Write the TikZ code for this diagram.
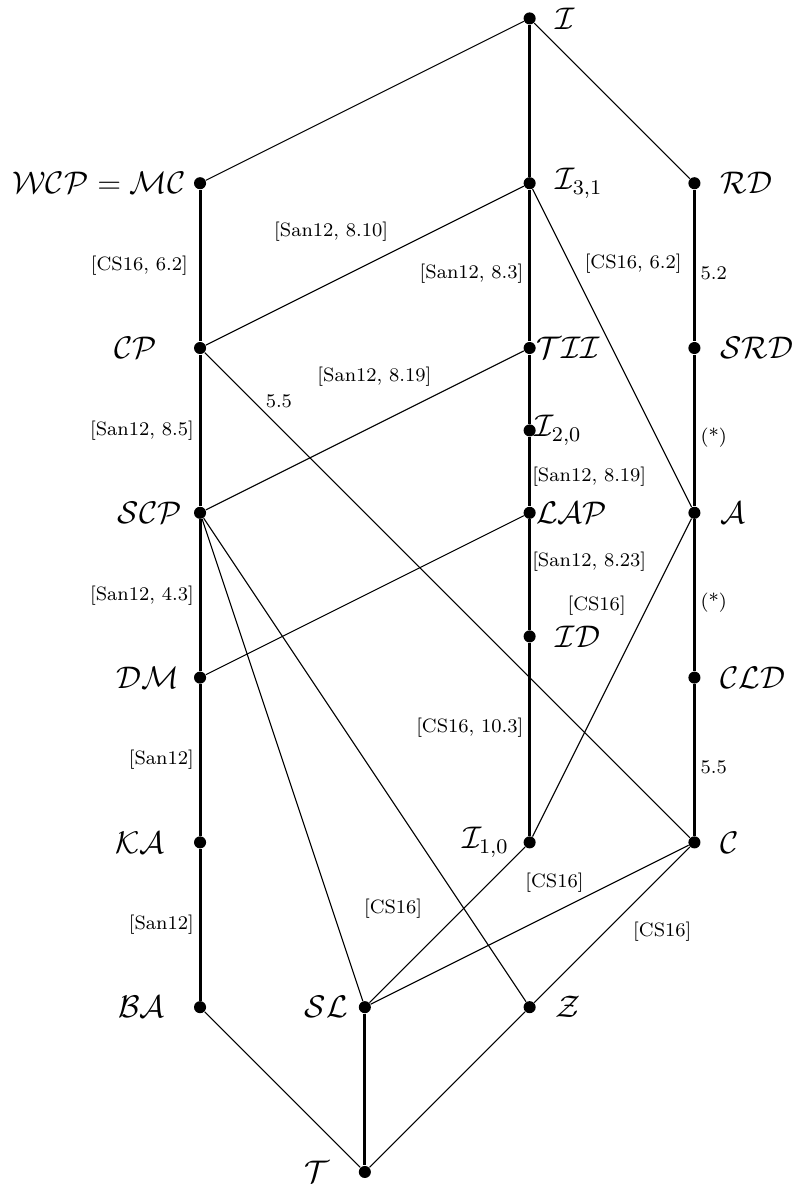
\documentclass[tikz,border=0pt]{standalone}
\usetikzlibrary{positioning}

\tikzset{
  vertex/.style={circle, fill=black, inner sep=0pt, minimum size=5pt},
  strong/.style={line width=1.2pt},
  weak/.style={line width=0.45pt},
  ref/.style={font=\footnotesize, inner sep=2pt},
  every label/.style={font=\large, scale=1.08}
}

\begin{document}
\begin{tikzpicture}[x=2.4cm, y=2.4cm]
    \useasboundingbox (-1.214,-0.073) rectangle (3.61,7.112);

    % classes
    \node[vertex, label={[label distance=4pt]right:$\mathcal{I}$}] (I) at (2,7) {};
    \node[vertex, label={[label distance=-0.5pt]left:$\mathcal{WCP}=\mathcal{MC}$}] (WCP) at (0,6) {};
    \node[vertex, label={[label distance=4pt]right:$\mathcal{I}_{3,1}$}] (I31) at (2,6) {};
    \node[vertex, label={[label distance=4pt]right:$\mathcal{RD}$}] (RD) at (3,6) {};
    \node[vertex, label={[label distance=10.5pt]left:$\mathcal{CP}$}] (CP) at (0,5) {};
    \node[vertex, label={[label distance=-3.5pt]right:$\mathcal{TII}$}] (TII) at (2,5) {};
    \node[vertex, label={[label distance=4pt]right:$\mathcal{SRD}$}] (SRD) at (3,5) {};
    \node[vertex, label={[label distance=-4pt]right:$\mathcal{I}_{2,0}$}] (I20) at (2,4.5) {};
    \node[vertex, label={[label distance=1pt]left:$\mathcal{SCP}$}] (SCP) at (0,4) {};
    \node[vertex, label={[label distance=-3.5pt]right:$\mathcal{LAP}$}] (LAP) at (2,4) {};
    \node[vertex, label={[label distance=4pt]right:$\mathcal{A}$}] (A) at (3,4) {};
    \node[vertex, label={[label distance=4pt]right:$\mathcal{ID}$}] (ID) at (2,3.25) {};
    \node[vertex, label={[label distance=2pt]left:$\mathcal{DM}$}] (DM) at (0,3) {};
    \node[vertex, label={[label distance=4pt]right:$\mathcal{CLD}$}] (CLD) at (3,3) {};
    \node[vertex, label={[label distance=7.5pt]left:$\mathcal{KA}$}] (KA) at (0,2) {};
    \node[vertex, label={[label distance=2pt]left:$\mathcal{I}_{1,0}$}] (I10) at (2,2) {};
    \node[vertex, label={[label distance=4pt]right:$\mathcal{C}$}] (C) at (3,2) {};
    \node[vertex, label={[label distance=7.5pt]left:$\mathcal{BA}$}] (BA) at (0,1) {};
    \node[vertex, label={[label distance=0.5pt]left:$\mathcal{SL}$}] (SL) at (1,1) {};
    \node[vertex, label={[label distance=4pt]right:$\mathcal{Z}$}] (Z) at (2,1) {};
    \node[vertex, label={[label distance=7.5pt]left:$\mathcal{T}$}] (T) at (1,0) {};

    % inclusions
    \draw[weak] (I) -- (WCP);
    \draw[strong] (I) -- (I31);
    \draw[weak] (I) -- (RD);

    \draw[strong] (WCP) -- node[ref, left=2.5pt] {[CS16, 6.2]} (CP);
    \draw[weak] (CP) -- node[ref, pos=0.394, above=15pt] {[San12, 8.10]} (I31);
    \draw[strong] (I31) -- node[ref, pos=0.55, left] {[San12, 8.3]} (TII);
    \draw[weak] (I31) -- node[ref, pos=0.234, right=4pt] {[CS16, 6.2]} (A);
    \draw[strong] (RD) -- node[ref, pos=0.55, right] {5.2} (SRD);

    \draw[strong] (CP) -- node[ref, left] {[San12, 8.5]} (SCP);
    \draw[weak] (CP) -- node[ref, pos=0.1, right=3pt] {5.5} (C);
    \draw[weak] (SCP) -- node[ref, pos=0.53, above=14pt] {[San12, 8.19]} (TII);
    \draw[strong] (TII) -- (I20);
    \draw[strong] (I20) -- node[ref, pos=0.566, right=-1.5pt] {[San12, 8.19]} (LAP);
    \draw[strong] (SRD) -- node[ref, pos=0.55, right] {(*)} (A);

    \draw[strong] (SCP) -- node[ref, left] {[San12, 4.3]} (DM);
    \draw[weak] (SCP) -- (SL);
    \draw[weak] (SCP) -- (Z);
    \draw[weak] (DM) -- (LAP);
    \draw[strong] (LAP) -- node[ref, pos=0.38, right=-1.5pt] {[San12, 8.23]} (ID);
    \draw[weak] (I10) -- node[ref, pos=0.726, left=7pt] {[CS16]} (A);
    \draw[strong] (A) -- node[ref, pos=0.55, right] {(*)} (CLD);

    \draw[strong] (ID) -- node[ref, pos=0.44, left] {[CS16, 10.3]} (I10);
    \draw[strong] (CLD) -- node[ref, pos=0.55, right] {5.5} (C);
    \draw[strong] (DM) -- node[ref, left] {[San12]} (KA);

    \draw[strong] (KA) -- node[ref, left] {[San12]} (BA);
    \draw[weak] (SL) -- node[ref, pos=0.606, left=15pt] {[CS16]} (I10);
    \draw[weak] (SL) -- node[ref, pos=0.578, above=6pt] {[CS16]} (C);
    \draw[weak] (Z) -- node[ref, pos=0.4545, right=9.5pt] {[CS16]} (C);

    \draw[weak] (BA) -- (T);
    \draw[strong] (SL) -- (T);
    \draw[weak] (Z) -- (T);

\end{tikzpicture}
\end{document}
